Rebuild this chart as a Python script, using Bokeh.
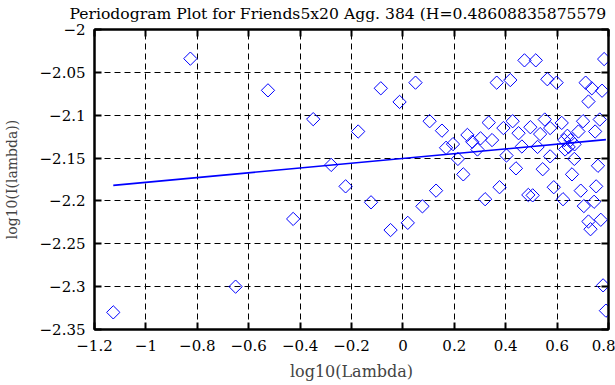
import math
from bokeh.plotting import figure
from bokeh.models import Range1d, LinearAxis, FixedTicker
from bokeh.embed import file_html
from bokeh.resources import INLINE

# log10(Lambda) and log10(I(lambda))
log_lambda = [
    -1.127, -0.827, -0.651, -0.525, -0.427, -0.349, -0.279, -0.223, -0.174, -0.124,
    -0.086, -0.048, -0.013, 0.019, 0.049, 0.076, 0.104, 0.129, 0.152, 0.168,
    0.195, 0.214, 0.235, 0.251, 0.270, 0.290, 0.302, 0.320, 0.334, 0.347,
    0.365, 0.376, 0.391, 0.403, 0.418, 0.427, 0.440, 0.450, 0.463, 0.473,
    0.488, 0.496, 0.505, 0.517, 0.524, 0.534, 0.544, 0.552, 0.562, 0.573,
    0.573, 0.587, 0.598, 0.618, 0.623, 0.640, 0.628, 0.652, 0.668, 0.645,
    0.631, 0.667, 0.658, 0.683, 0.692, 0.701, 0.704, 0.711, 0.722, 0.722,
    0.730, 0.735, 0.744, 0.748, 0.752, 0.759, 0.766, 0.770, 0.775, 0.779,
    0.783, 0.790,
]
log_I = [
    -2.330, -2.034, -2.300, -2.071, -2.221, -2.1046, -2.158, -2.183, -2.119, -2.2016,
    -2.0686, -2.234, -2.0845, -2.2256, -2.062, -2.2063, -2.107, -2.188, -2.118, -2.138,
    -2.1337, -2.151, -2.169, -2.123, -2.131, -2.140, -2.127, -2.198, -2.1086, -2.129,
    -2.062, -2.184, -2.115, -2.147, -2.059, -2.107, -2.162, -2.121, -2.1365, -2.036,
    -2.193, -2.114, -2.1935, -2.036, -2.137, -2.122, -2.163, -2.105, -2.058, -2.115,
    -2.148, -2.184, -2.062, -2.109, -2.198, -2.124, -2.129, -2.129, -2.134, -2.137,
    -2.140, -2.151, -2.169, -2.119, -2.188, -2.107, -2.206, -2.062, -2.084, -2.224,
    -2.233, -2.0686, -2.201, -2.119, -2.183, -2.159, -2.105, -2.222, -2.0714, -2.2985,
    -2.0345, -2.328,
]

# least-squares fit line end points (slope = 1 - 2H)
fit_x = [-1.127, 0.790]
fit_y = [-2.1818, -2.1285]

x_ticks = [-1.2, -1.0, -0.8, -0.6, -0.4, -0.2, 0.0, 0.2, 0.4, 0.6, 0.8]
x_tick_labels = ["\u22121.2", "\u22121", "\u22120.8", "\u22120.6", "\u22120.4", "\u22120.2",
                 "0", "0.2", "0.4", "0.6", "0.8"]
y_ticks = [-2.35, -2.3, -2.25, -2.2, -2.15, -2.1, -2.05, -2.0]
y_tick_labels = ["\u22122.35", "\u22122.3", "\u22122.25", "\u22122.2", "\u22122.15",
                 "\u22122.1", "\u22122.05", "\u22122"]

title_text = "Periodogram Plot for Friends5x20 Agg. 384 (H=0.48608835875579"
x_label = "log10(Lambda)"
y_label = "log10(I(lambda))"

FONT = "DejaVu Serif"

p = figure(width=615, height=385, x_range=Range1d(-1.2, 0.8), y_range=Range1d(-2.35, -2.0),
           output_backend="svg", toolbar_location=None,
           min_border_left=91, min_border_right=7, min_border_top=29, min_border_bottom=56)
p.background_fill_color = "white"
p.border_fill_color = "white"
p.outline_line_color = "black"
p.outline_line_width = 2

p.title.text = title_text
p.title.align = "left"
p.title.vertical_align = "top"
p.title.offset = -25
p.title.standoff = 9
p.title.text_font = FONT
p.title.text_font_size = "15.6px"
p.title.text_font_style = "normal"
p.title.text_color = "black"


def style_axis(ax, ticks, labels, show_labels):
    ax.ticker = FixedTicker(ticks=ticks)
    ax.axis_line_color = "black"
    ax.axis_line_width = 2
    ax.major_tick_in = 7
    ax.major_tick_out = 0
    ax.major_tick_line_width = 2
    ax.major_tick_line_color = "black"
    ax.minor_tick_line_color = None
    ax.major_label_text_font = FONT
    if show_labels:
        ax.major_label_overrides = {t: l for t, l in zip(ticks, labels)}
        ax.major_label_text_font_size = "15px"
        ax.major_label_text_color = "black"
    else:
        ax.major_label_text_font_size = "0px"
        ax.major_label_text_color = None
        ax.major_label_standoff = 0


style_axis(p.xaxis[0], x_ticks, x_tick_labels, True)
style_axis(p.yaxis[0], y_ticks, y_tick_labels, True)
p.xaxis[0].major_label_standoff = 10
p.yaxis[0].major_label_standoff = 9

p.xaxis[0].axis_label = x_label
p.xaxis[0].axis_label_text_font = FONT
p.xaxis[0].axis_label_text_font_style = "normal"
p.xaxis[0].axis_label_text_font_size = "16px"
p.xaxis[0].axis_label_standoff = 8

p.yaxis[0].axis_label = y_label
p.yaxis[0].axis_label_text_font = FONT
p.yaxis[0].axis_label_text_font_style = "normal"
p.yaxis[0].axis_label_text_font_size = "14px"
p.yaxis[0].axis_label_standoff = 17

top = LinearAxis()
style_axis(top, x_ticks, x_tick_labels, False)
p.add_layout(top, "above")
right = LinearAxis()
style_axis(right, y_ticks, y_tick_labels, False)
p.add_layout(right, "right")

for g in (p.xgrid[0], p.ygrid[0]):
    g.grid_line_color = "black"
    g.grid_line_dash = "6 4"
    g.grid_line_width = 1

p.scatter(log_lambda, log_I, marker="square", size=9.4, angle=math.pi / 4,
          fill_color=None, line_color="#0000ff", line_width=1)
p.line(fit_x, fit_y, line_color="#0000ff", line_width=1.6)

open("out.html", "w").write(file_html(p, INLINE))
